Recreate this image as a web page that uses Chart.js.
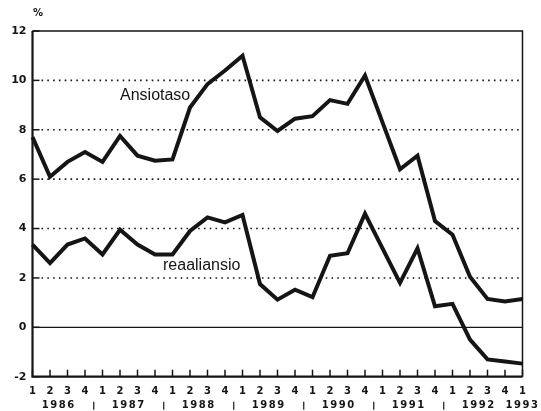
<!DOCTYPE html>
<html>
<head>
<meta charset="utf-8">
<script src="https://cdn.jsdelivr.net/npm/chart.js@4.4.0/dist/chart.umd.min.js"></script>
<style>
  body { margin: 0; background: #fff; }
  #wrap { width: 541px; height: 411px; }
</style>
</head>
<body>
<div id="wrap"><canvas id="chart" width="541" height="411"></canvas></div>
<script>
// Quarters 1986 Q1 ... 1993 Q1
const quarters = ['1','2','3','4', '1','2','3','4', '1','2','3','4', '1','2','3','4',
                  '1','2','3','4', '1','2','3','4', '1','2','3','4', '1'];
const years = ['1986', '1987', '1988', '1989', '1990', '1991', '1992', '1993'];

// Annual change, %
const ansiotaso = [7.7, 6.1, 6.7, 7.1, 6.7, 7.75, 6.95, 6.75, 6.8, 8.9, 9.85, 10.4, 11.0,
                   8.5, 7.95, 8.45, 8.55, 9.2, 9.05, 10.2, 8.3, 6.4, 6.95, 4.3, 3.75,
                   2.05, 1.15, 1.05, 1.15];
const reaaliansio = [3.35, 2.6, 3.35, 3.6, 2.95, 3.95, 3.35, 2.95, 2.95, 3.9, 4.45, 4.25, 4.55,
                     1.75, 1.12, 1.52, 1.22, 2.9, 3.0, 4.6, 3.2, 1.8, 3.2, 0.85, 0.95,
                     -0.5, -1.3, -1.38, -1.47];

const yTicks = [-2, 0, 2, 4, 6, 8, 10, 12];
const dottedLevels = [2, 4, 6, 8, 10];

const ink = '#151515';

// grid, frame and the year row
const framePlugin = {
  id: 'frame',
  beforeDatasetsDraw(chart) {
    const { ctx, chartArea: a, scales: { x, y } } = chart;
    ctx.save();
    ctx.strokeStyle = ink;

    // dotted grid
    ctx.lineWidth = 1.6;
    ctx.setLineDash([1.6, 4.2]);
    dottedLevels.forEach(v => {
      const py = y.getPixelForValue(v);
      ctx.beginPath();
      ctx.moveTo(a.left + 9, py);
      ctx.lineTo(a.right, py);
      ctx.stroke();
    });
    ctx.setLineDash([]);

    // short ticks on the value axis
    ctx.lineWidth = 1.5;
    yTicks.forEach(v => {
      const py = y.getPixelForValue(v);
      ctx.beginPath();
      ctx.moveTo(a.left, py);
      ctx.lineTo(a.left + 7, py);
      ctx.stroke();
    });

    // zero line
    ctx.lineWidth = 1.3;
    const y0 = y.getPixelForValue(0);
    ctx.beginPath();
    ctx.moveTo(a.left, y0);
    ctx.lineTo(a.right, y0);
    ctx.stroke();

    // top and right border
    ctx.lineWidth = 1.5;
    ctx.beginPath();
    ctx.moveTo(a.left, a.top);
    ctx.lineTo(a.right, a.top);
    ctx.lineTo(a.right, a.bottom);
    ctx.stroke();

    // left and bottom axis
    ctx.lineWidth = 2.2;
    ctx.beginPath();
    ctx.moveTo(a.left, a.top);
    ctx.lineTo(a.left, a.bottom);
    ctx.lineTo(a.right, a.bottom);
    ctx.stroke();

    // quarter ticks pointing up from the bottom axis
    ctx.lineWidth = 1.5;
    quarters.forEach((q, i) => {
      const px = x.getPixelForValue(i);
      ctx.beginPath();
      ctx.moveTo(px, a.bottom);
      ctx.lineTo(px, a.bottom - 7);
      ctx.stroke();
    });
    ctx.restore();
  },
  afterDatasetsDraw(chart) {
    const { ctx, chartArea: a, scales: { x } } = chart;
    ctx.save();
    ctx.fillStyle = ink;
    ctx.strokeStyle = ink;

    // series names
    ctx.font = '16px "Liberation Sans", Arial, sans-serif';
    ctx.textAlign = 'left';
    ctx.textBaseline = 'alphabetic';
    ctx.fillText('Ansiotaso', 120, 99.5);
    ctx.fillText('reaaliansio', 163, 269.5);

    // unit
    ctx.font = 'bold 10px "DejaVu Sans", sans-serif';
    ctx.textAlign = 'center';
    ctx.textBaseline = 'middle';
    ctx.fillText('%', 38, 13);

    // year row
    ctx.font = 'bold 10px "DejaVu Sans", sans-serif';
    ctx.letterSpacing = '1.5px';
    const yy = 405.8;
    years.forEach((yr, k) => {
      const idx = k < years.length - 1 ? 4 * k + 1.5 : quarters.length - 1;
      ctx.fillText(yr, x.getPixelForValue(idx), yy);
    });
    // separators between years
    ctx.lineWidth = 1.2;
    for (let k = 0; k < years.length - 2; k++) {
      const px = x.getPixelForValue(4 * k + 3.5);
      ctx.beginPath();
      ctx.moveTo(px, yy - 4);
      ctx.lineTo(px, yy + 4);
      ctx.stroke();
    }
    ctx.restore();
  }
};

new Chart(document.getElementById('chart'), {
  type: 'line',
  data: {
    labels: quarters,
    datasets: [
      {
        label: 'Ansiotaso',
        data: ansiotaso,
        borderColor: ink,
        borderWidth: 4,
        pointRadius: 0,
        tension: 0,
        borderJoinStyle: 'miter'
      },
      {
        label: 'reaaliansio',
        data: reaaliansio,
        borderColor: ink,
        borderWidth: 4,
        pointRadius: 0,
        tension: 0,
        borderJoinStyle: 'miter'
      }
    ]
  },
  options: {
    responsive: false,
    animation: false,
    layout: { padding: { top: 31, right: 18.5, left: 0, bottom: 0 } },
    plugins: {
      legend: { display: false },
      tooltip: { enabled: false }
    },
    scales: {
      x: {
        offset: false,
        grid: { display: false, drawTicks: false },
        border: { display: false },
        ticks: {
          color: ink,
          font: { family: '"DejaVu Sans", sans-serif', size: 10, weight: 'bold' },
          autoSkip: false,
          maxRotation: 0,
          padding: 9
        },
        afterFit(scale) { scale.height = 34.3; }
      },
      y: {
        min: -2,
        max: 12,
        grid: { display: false, drawTicks: false },
        border: { display: false },
        ticks: {
          stepSize: 2,
          color: ink,
          font: { family: '"DejaVu Sans", sans-serif', size: 11, weight: 'bold' },
          padding: 6
        },
        afterFit(scale) { scale.width = 32.5; }
      }
    }
  },
  plugins: [framePlugin]
});
</script>
</body>
</html>
